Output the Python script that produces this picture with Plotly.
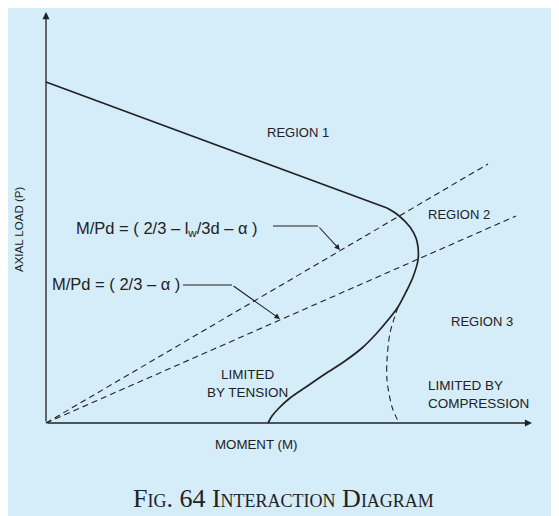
import plotly.graph_objects as go

# ---- data (diagram units: M = moment, P = axial load) ----
cap_m = [0, 341]
cap_p = [341, 215]
curve_m = [341, 352, 364, 370, 372, 372, 367, 361, 352, 342, 330, 316, 299, 279, 260, 244, 233, 226, 222]
curve_p = [215, 208, 196, 185, 176, 163, 146, 133, 116, 103, 89, 75, 62, 49, 36, 25, 15, 7, 0]
comp_m = [352, 344, 341, 341, 346, 353]
comp_p = [116, 90, 63, 43, 16, 0]
ratio1_m = [0, 442]
ratio1_p = [0, 259]
ratio2_m = [0, 470]
ratio2_p = [0, 207]
leader1_m = [227, 272, 294]
leader1_p = [197, 197, 173]
leader2_m = [137, 186, 234]
leader2_p = [138, 138, 104]
axis_end_m = 486
axis_end_p = 411

BG = "#d5ecf9"
INK = "#222222"
SANS = "Liberation Sans, Arial, sans-serif"

fig = go.Figure()

dash = "6px,4px"
fig.add_trace(go.Scatter(x=ratio1_m, y=ratio1_p, mode="lines",
                         line=dict(color=INK, width=1.1, dash=dash)))
fig.add_trace(go.Scatter(x=ratio2_m, y=ratio2_p, mode="lines",
                         line=dict(color=INK, width=1.1, dash=dash)))
fig.add_trace(go.Scatter(x=comp_m, y=comp_p, mode="lines",
                         line=dict(color=INK, width=1.1, dash=dash, shape="spline", smoothing=0.8)))
fig.add_trace(go.Scatter(x=cap_m, y=cap_p, mode="lines",
                         line=dict(color=INK, width=1.7)))
fig.add_trace(go.Scatter(x=curve_m, y=curve_p, mode="lines",
                         line=dict(color=INK, width=1.7, shape="spline", smoothing=1.0)))
fig.add_trace(go.Scatter(x=leader1_m[:2], y=leader1_p[:2], mode="lines",
                         line=dict(color=INK, width=1.1)))
fig.add_trace(go.Scatter(x=leader2_m[:2], y=leader2_p[:2], mode="lines",
                         line=dict(color=INK, width=1.1)))

ann = []
def arrow(x0, y0, x1, y1, w=1.2, size=1.2):
    ann.append(dict(x=x1, y=y1, ax=x0, ay=y0, xref="x", yref="y", axref="x", ayref="y",
                    text="", showarrow=True, arrowhead=2, arrowsize=size, arrowwidth=w,
                    arrowcolor=INK, standoff=0, startstandoff=0))

arrow(0, 0, axis_end_m, 0, w=1.3, size=1.1)
arrow(0, 0, 0, axis_end_p, w=1.3, size=1.1)
arrow(leader1_m[1], leader1_p[1], leader1_m[2], leader1_p[2], w=1.1, size=1.0)
arrow(leader2_m[1], leader2_p[1], leader2_m[2], leader2_p[2], w=1.1, size=1.0)

def label(x, y, t, xa="center", size=13, angle=0, align="center"):
    ann.append(dict(x=x, y=y, xref="x", yref="y", text=t, showarrow=False,
                    xanchor=xa, yanchor="middle", textangle=angle, align=align,
                    font=dict(family=SANS, size=size, color=INK)))

label(252, 291, "REGION 1")
label(413, 209, "REGION 2")
label(436, 102, "REGION 3")
label(201, 40, "LIMITED<br>BY TENSION", size=13.5)
label(380, 28.5, "LIMITED BY<br>COMPRESSION", xa="left", align="left", size=13.5)
label(210, -21, "MOMENT (M)", size=13.3)
label(-27, 193, "AXIAL LOAD (P)", size=11.5, angle=-90)
label(214, 194, "M/Pd = ( 2/3 – l<sub>w</sub>/3d – α )", xa="right", size=16.5)
label(136, 139, "M/Pd = ( 2/3 – α )", xa="right", size=16.5)

ann.append(dict(x=237.5, y=-75, xref="x", yref="y", text="Fig. 64 Interaction Diagram",
                showarrow=False, xanchor="center", yanchor="middle",
                font=dict(family="Liberation Serif, Times New Roman, serif", size=26,
                          color=INK, variant="small-caps")))

fig.update_layout(
    width=559, height=516, autosize=False,
    margin=dict(l=0, r=0, t=0, b=0, pad=0),
    paper_bgcolor=BG, plot_bgcolor=BG,
    showlegend=False,
    annotations=ann,
    xaxis=dict(range=[-38, 521], visible=False, fixedrange=True),
    yaxis=dict(range=[-101, 415], visible=False, fixedrange=True),
)

fig.write_html("out.html")
